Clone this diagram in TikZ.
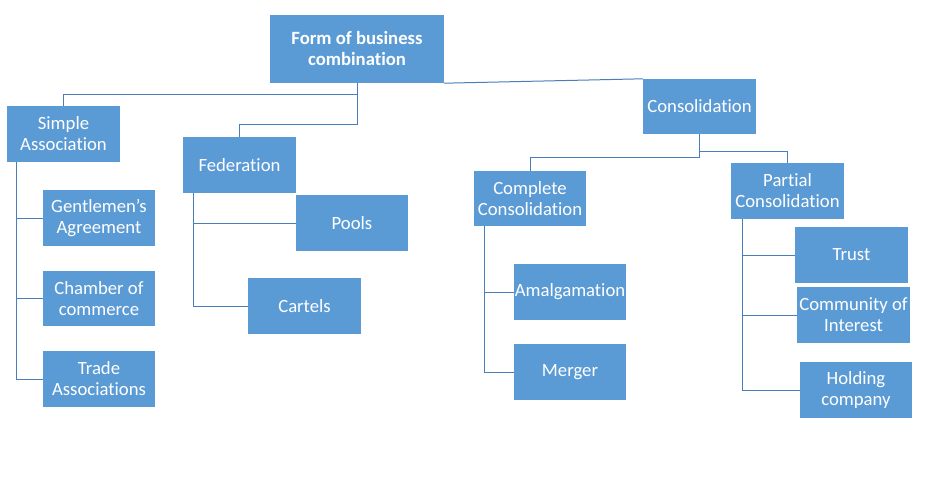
\documentclass[tikz,border=0pt]{standalone}
\usepackage{fontspec}
\setmainfont{Carlito}[Ligatures=NoCommon]
\definecolor{boxblue}{HTML}{5B9BD5}
\definecolor{linkblue}{HTML}{4A7EBB}
\begin{document}
\begin{tikzpicture}[x=1pt,y=-1pt,
  box/.style={fill=boxblue,text=white,align=center,inner sep=0pt,
    minimum width=113pt,minimum height=56pt,font=\fontsize{18.7}{21}\selectfont},
  link/.style={draw=linkblue,line width=1pt}]
\useasboundingbox (0,0) rectangle (928,480);
\node[box,minimum width=174pt,minimum height=68pt,font=\bfseries\fontsize{18.7}{21}\selectfont] (root) at (357,49) {Form of business\\combination};
\node[box] (simple) at (63.5,134) {Simple\\Association};
\node[box] (fed) at (239.5,165) {Federation};
\node[box,minimum width=112pt] (gent) at (99,218) {Gentlemen’s\\Agreement};
\node[box,minimum width=112pt] (pools) at (352,223) {Pools};
\node[box,minimum width=112pt,minimum height=55pt] (chamber) at (99,298.5) {Chamber of\\commerce};
\node[box,minimum width=112pt] (trade) at (99,379) {Trade\\Associations};
\node[box] (cartels) at (304.5,306) {Cartels};
\node[box,minimum height=55pt] (cons) at (699.5,106.5) {Consolidation};
\node[box,minimum width=112pt,minimum height=55pt] (complete) at (530,198.5) {Complete\\Consolidation};
\node[box] (partial) at (787.5,191) {Partial\\Consolidation};
\node[box] (trust) at (851.5,255) {Trust};
\node[box,minimum width=112pt] (amal) at (570,292) {Amalgamation};
\node[box,minimum width=112pt] (merger) at (570,372) {Merger};
\node[box] (community) at (853.5,315) {Community of\\Interest};
\node[box,minimum width=112pt] (holding) at (856,390) {Holding\\company};
% top-level links
\draw[link] (root.south) -- ++(0,11) -| (simple.north);
\draw[link] (root.south) -- ++(0,41) -| (fed.north);
\draw[link] (root.south east) -- (cons.north west);
\draw[link] (cons.south) -- ++(0,23) -| (complete.north);
\draw[link] (cons.south) -- ++(0,17) -| (partial.north);
% children
\coordinate (sa) at ([xshift=10pt]simple.south west);
\draw[link] (sa) |- (gent.west);
\draw[link] (sa) |- (chamber.west);
\draw[link] (sa) |- (trade.west);
\coordinate (fa) at ([xshift=11pt]fed.south west);
\draw[link] (fa) |- (pools.west);
\draw[link] (fa) |- (cartels.west);
\coordinate (ca) at ([xshift=10.7pt]complete.south west);
\draw[link] (ca) |- (amal.west);
\draw[link] (ca) |- (merger.west);
\coordinate (pa) at ([xshift=11.7pt]partial.south west);
\draw[link] (pa) |- (trust.west);
\draw[link] (pa) |- (community.west);
\draw[link] (pa) |- (holding.west);
\end{tikzpicture}
\end{document}
